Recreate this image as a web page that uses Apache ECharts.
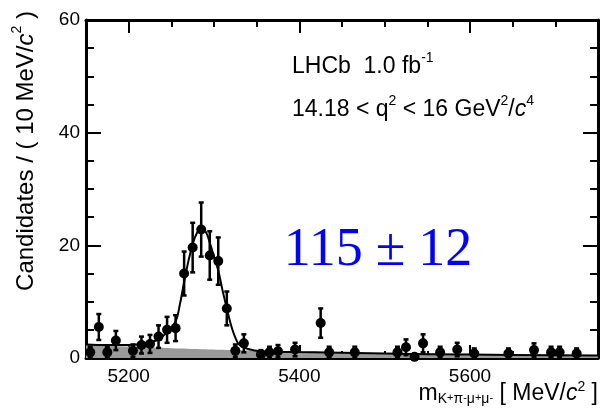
<!DOCTYPE html>
<html><head><meta charset="utf-8">
<script src="https://cdn.jsdelivr.net/npm/echarts@6/dist/echarts.min.js"></script>
<style>html,body{margin:0;padding:0;background:#fff}#c{width:600px;height:412px}</style>
</head><body><div id="c"></div>
<script>
// ---- data ----
const binCenters = [5155,5165,5175,5185,5205,5215,5225,5235,5245,5255,5265,5275,5285,5295,5305,5315,5325,5335,5355,5365,5375,5395,5425,5435,5465,5515,5525,5535,5545,5565,5585,5605,5645,5675,5695,5705,5725];
const counts = [1,5.5,1,3.1,1.3,2.3,2.5,3.8,5,5.3,15,19.6,22.8,18.2,17.2,8.8,1.3,2.6,0.6,1,1.2,1.5,6.2,1,1,1,1.9,0.2,2.6,1,1.5,0.8,0.8,1.4,1,1,0.8];
const errors = [1,2.3,1,1.7,1.1,1.5,1.6,2,2.3,2.3,3.9,4.4,4.8,4.3,4.2,3,1.1,1.6,0.8,1,1.1,1.2,2.6,1,1,1,1.4,0.5,1.6,1,1.2,0.9,0.9,1.2,1,1,0.9];
const fitMass = [5150,5175,5200,5220,5235,5245,5255,5260,5265,5270,5275,5280,5285,5290,5295,5300,5305,5310,5315,5320,5325,5330,5340,5355,5400,5500,5600,5750];
const fitValues = [2.4,2.3,2.3,2.6,3.3,4.6,6.5,9.5,13.5,17.2,20.2,22.2,23.0,22.5,20.5,18.0,15.5,12.0,8.8,5.8,3.6,2.3,1.6,1.2,1.05,0.8,0.6,0.45];
const bkgMass = [5150,5250,5400,5550,5750];
const bkgValues = [2.35,1.75,1.15,0.75,0.45];
const xMajorTicks = [5200,5400,5600];
const xMinorTicks = [5150,5250,5300,5350,5450,5500,5550,5650,5700,5750];
const yTickLabels = [0,20,40,60];

const chart = echarts.init(document.getElementById('c'), null, {renderer:'canvas'});
const F = 'Liberation Sans, Arial, sans-serif';
const blk = {color:'#000', width:2};
function xAx(pos, ticks, len, showLine, showLabel){
  return {type:'value', min:5150, max:5750, position:pos,
    axisLine:{show:showLine, onZero:false, lineStyle:{color:'#000', width:3}},
    axisTick:{show:true, inside:true, length:len, customValues:ticks, lineStyle:blk},
    axisLabel:{show:showLabel, customValues:ticks, fontSize:19, color:'#000', fontFamily:F, margin:9,
      formatter:v => String(v)},
    splitLine:{show:false}};
}
function yAx(pos, showLabel){
  return {type:'value', min:0, max:60, interval:20, position:pos,
    axisLine:{show:true, onZero:false, lineStyle:{color:'#000', width:3}},
    axisTick:{show:true, inside:true, length:15, lineStyle:blk},
    minorTick:{show:true, splitNumber:4, length:8, lineStyle:blk},
    axisLabel:{show:showLabel, fontSize:19, color:'#000', fontFamily:F, margin:6,
      formatter:v => yTickLabels.indexOf(v) >= 0 ? String(v) : ''},
    splitLine:{show:false}, minorSplitLine:{show:false}};
}
const pts = binCenters.map((m,i)=>[m, counts[i]]);
const bars = binCenters.map((m,i)=>[m, Math.max(0, counts[i]-errors[i]), counts[i]+errors[i]]);
const sup = {fontSize:14, fontFamily:F, fill:'#000', verticalAlign:'top', lineHeight:14, padding:[1,0,0,0]};
const txt = (sz, extra) => Object.assign({fontSize:sz, fontFamily:F, fill:'#000', verticalAlign:'bottom', lineHeight:sz+5}, extra||{});
const serif = 'Liberation Serif, Times New Roman, serif';
chart.setOption({
  animation:false,
  grid:{left:86, right:2, top:20, bottom:54, containLabel:false},
  xAxis:[xAx('bottom', xMajorTicks, 13, true, true), xAx('bottom', xMinorTicks, 7, false, false),
         xAx('top', xMajorTicks, 13, true, false), xAx('top', xMinorTicks, 7, false, false)],
  yAxis:[yAx('left', true), yAx('right', false)],
  series:[
    {type:'line', data:bkgMass.map((m,i)=>[m,bkgValues[i]]), smooth:true, symbol:'none',
     lineStyle:{width:0}, areaStyle:{color:'#9a9a9a', opacity:1}, z:1},
    {type:'line', data:fitMass.map((m,i)=>[m,fitValues[i]]), smooth:0.4, symbol:'none',
     lineStyle:{color:'#000', width:2}, z:2},
    {type:'custom', data:bars, z:3, renderItem:(params, api)=>{
      const x = api.value(0);
      const p1 = api.coord([x, api.value(1)]), p2 = api.coord([x, api.value(2)]);
      const s = {stroke:'#000', lineWidth:2.5};
      return {type:'group', children:[
        {type:'line', shape:{x1:p1[0], y1:p1[1], x2:p2[0], y2:p2[1]}, style:s},
        {type:'line', shape:{x1:p2[0]-2.5, y1:p2[1], x2:p2[0]+2.5, y2:p2[1]}, style:s},
        {type:'line', shape:{x1:p1[0]-2.5, y1:p1[1], x2:p1[0]+2.5, y2:p1[1]}, style:s}
      ]};
    }},
    {type:'scatter', data:pts, symbol:'circle', symbolSize:10, itemStyle:{color:'#000', opacity:1}, z:4}
  ],
  graphic:[
    {type:'text', x:24, y:151, rotation:Math.PI/2, style:{
      text:'{a|Candidates / ( 10 MeV/}{i|c}{s|2}{a| )}', align:'center', verticalAlign:'middle',
      rich:{a:txt(24), i:txt(24,{fontStyle:'italic'}), s:sup}}},
    {type:'text', x:292, y:64, style:{
      text:'{a|LHCb  1.0 fb}{s|-1}', align:'left', verticalAlign:'middle',
      rich:{a:txt(23), s:sup}}},
    {type:'text', x:292, y:107, style:{
      text:'{a|14.18 < q}{s|2}{a| < 16 GeV}{s|2}{a|/}{i|c}{s|4}', align:'left', verticalAlign:'middle',
      rich:{a:txt(23), i:txt(23,{fontStyle:'italic'}), s:sup}}},
    {type:'text', x:378, y:251, style:{text:'{n|115}{p|±}{n|12}', align:'center', verticalAlign:'middle',
      rich:{n:{fontSize:54, fontFamily:serif, fill:'#0000ff'},
            p:{fontSize:54, fontFamily:serif, fill:'#0000ff', padding:[0,13,0,13]}}}},
    {type:'text', x:598, y:394, style:{
      text:'{m|m}{b|K}{p|+}{b|π}{p|-}{b|μ}{p|+}{b|μ}{p|-}{a| [ MeV/}{i|c}{s|2}{a| ]}', align:'right', verticalAlign:'middle',
      rich:{m:txt(23,{verticalAlign:'top', lineHeight:24}),
            a:txt(23,{verticalAlign:'top', lineHeight:24}),
            i:txt(23,{verticalAlign:'top', lineHeight:24, fontStyle:'italic'}),
            b:{fontSize:14, fontFamily:F, fill:'#000', verticalAlign:'bottom', lineHeight:15, padding:[13,0,0,0]},
            p:{fontSize:11, fontFamily:F, fill:'#000', verticalAlign:'top', lineHeight:11, padding:[10,0,0,0]},
            s:Object.assign({}, sup, {padding:[-2,0,0,0]})}}}
  ]
});
</script></body></html>
